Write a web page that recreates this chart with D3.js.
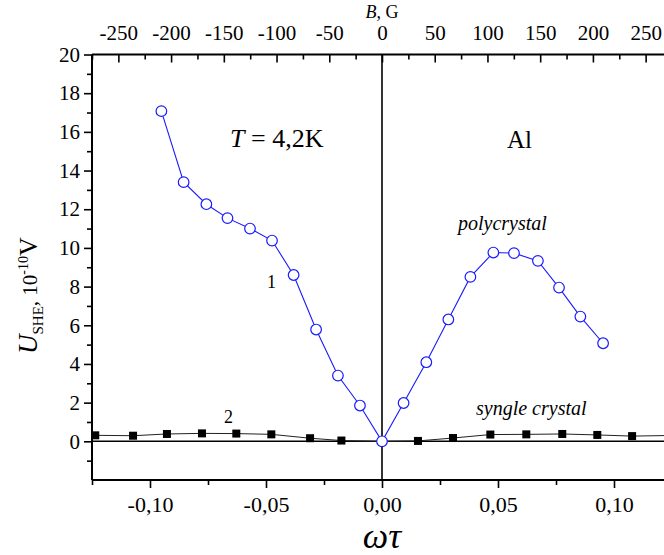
<!DOCTYPE html>
<html><head><meta charset="utf-8">
<script src="https://cdn.jsdelivr.net/npm/d3@7"></script>
<style>
body{margin:0;background:#fff;}
svg{display:block;}
text{font-family:"Liberation Serif","Times New Roman",serif;}
</style></head><body>
<svg id="c" width="664" height="555"></svg>
<script>
// ---- data ----
const polyX = [-0.0951,-0.0855,-0.0757,-0.0666,-0.0569,-0.0474,-0.0381,-0.0284,-0.0190,-0.0095,0,0.0093,0.0191,0.0286,0.0381,0.0480,0.0569,0.0672,0.0763,0.0855,0.0953];
const polyY = [17.07,13.40,12.26,11.54,11.00,10.38,8.60,5.78,3.40,1.85,0,1.98,4.09,6.30,8.50,9.76,9.73,9.33,7.95,6.45,5.07];
const singX = [-0.1236,-0.1073,-0.0927,-0.0776,-0.0628,-0.0477,-0.0310,-0.0175,0,0.0155,0.0306,0.0467,0.0622,0.0777,0.0928,0.1078,0.1233];
const singY = [0.31,0.29,0.38,0.41,0.40,0.36,0.16,0.04,0,0.02,0.17,0.35,0.36,0.38,0.33,0.27,0.30];
const xMajor = [-0.10,-0.05,0,0.05,0.10];
const xMinor = [-0.125,-0.075,-0.025,0.025,0.075,0.125];
const yMajor = [0,2,4,6,8,10,12,14,16,18,20];
const yMinor = [-1,1,3,5,7,9,11,13,15,17,19];
const bMajor = [-250,-200,-150,-100,-50,0,50,100,150,200,250];
const bMinor = [-275,-225,-175,-125,-75,-25,25,75,125,175,225,275];

const SERIF = "Liberation Serif, Times New Roman, serif";
const SANS = "Liberation Sans, Arial, sans-serif";
const svg = d3.select("#c");
const L = 92, R = 672, T = 54.5, Bm = 480;
const x = d3.scaleLinear().domain([-0.125,0.125]).range([L,R]);
const xb = d3.scaleLinear().domain([-275,275]).range([L,R]);
const y = d3.scaleLinear().domain([-2,20]).range([Bm,T]);

const fmtX = v => (Math.abs(v)<1e-9 ? "0,00" : (v<0?"-":"") + Math.abs(v).toFixed(2).replace(".",","));
const fmtB = v => (v<0?"-":"") + Math.abs(v);

function style(g, fs){
  g.attr("font-family",SERIF).attr("font-size",fs);
  g.select(".domain").remove();
  g.selectAll("line").attr("stroke","#000").attr("stroke-width",1.6);
  g.selectAll("text").attr("fill","#000").attr("font-family",SERIF).attr("font-size",fs);
}
// bottom axis
svg.append("g").attr("transform",`translate(0,${Bm})`)
  .call(d3.axisBottom(x).tickValues(xMajor).tickFormat(fmtX).tickSize(8).tickPadding(8)).call(g=>style(g,22));
svg.append("g").attr("transform",`translate(0,${Bm})`)
  .call(d3.axisBottom(x).tickValues(xMinor).tickFormat("").tickSize(5)).call(g=>style(g,22));
// left axis
svg.append("g").attr("transform",`translate(${L},0)`)
  .call(d3.axisLeft(y).tickValues(yMajor).tickFormat(d=>d).tickSize(8).tickPadding(4)).call(g=>style(g,21));
svg.append("g").attr("transform",`translate(${L},0)`)
  .call(d3.axisLeft(y).tickValues(yMinor).tickFormat("").tickSize(5)).call(g=>style(g,21));
// top axis (ticks inward)
svg.append("g").attr("transform",`translate(0,${T})`)
  .call(d3.axisTop(xb).tickValues(bMajor).tickFormat(fmtB).tickSizeInner(-8).tickSizeOuter(0).tickPadding(15)).call(g=>style(g,21));
svg.append("g").attr("transform",`translate(0,${T})`)
  .call(d3.axisTop(xb).tickValues(bMinor).tickFormat("").tickSizeInner(-5).tickSizeOuter(0)).call(g=>style(g,21));

// frame
const fr = svg.append("g").attr("stroke","#000").attr("stroke-width",2).attr("fill","none");
fr.append("line").attr("x1",L).attr("x2",L).attr("y1",T).attr("y2",Bm);
fr.append("line").attr("x1",L).attr("x2",R).attr("y1",T).attr("y2",T);
fr.append("line").attr("x1",L).attr("x2",R).attr("y1",Bm).attr("y2",Bm);
fr.append("line").attr("x1",R).attr("x2",R).attr("y1",T).attr("y2",Bm);
// zero lines
svg.append("line").attr("x1",L).attr("x2",R).attr("y1",y(0)).attr("y2",y(0)).attr("stroke","#000").attr("stroke-width",1.6);
svg.append("line").attr("x1",x(0)).attr("x2",x(0)).attr("y1",T).attr("y2",Bm).attr("stroke","#000").attr("stroke-width",1.6);

// series 2 (single crystal)
const s2 = singX.map((v,i)=>[v,singY[i]]);
svg.append("path").datum(s2).attr("fill","none").attr("stroke","#222").attr("stroke-width",1)
  .attr("d",d3.line().x(d=>x(d[0])).y(d=>y(d[1])));
svg.append("g").selectAll("rect").data(s2).join("rect")
  .attr("x",d=>x(d[0])-4).attr("y",d=>y(d[1])-4).attr("width",8).attr("height",8).attr("fill","#000");

// series 1 (polycrystal)
const s1 = polyX.map((v,i)=>[v,polyY[i]]);
svg.append("path").datum(s1).attr("fill","none").attr("stroke","#1a1aff").attr("stroke-width",1.1)
  .attr("d",d3.line().x(d=>x(d[0])).y(d=>y(d[1])));
svg.append("g").selectAll("circle").data(s1).join("circle")
  .attr("cx",d=>x(d[0])).attr("cy",d=>y(d[1])).attr("r",5.3)
  .attr("fill","#fff").attr("stroke","#1a1aff").attr("stroke-width",1.2);

// annotations
const t1 = svg.append("text").attr("x",230).attr("y",147).attr("font-family",SERIF).attr("font-size",26);
t1.append("tspan").attr("font-style","italic").text("T");
t1.append("tspan").text(" = 4,2K");
svg.append("text").attr("x",507).attr("y",148).attr("font-family",SERIF).attr("font-size",25).text("Al");
svg.append("text").attr("x",458).attr("y",230).attr("font-family",SERIF).attr("font-size",20).attr("font-style","italic").text("polycrystal");
svg.append("text").attr("x",476).attr("y",415).attr("font-family",SERIF).attr("font-size",20).attr("font-style","italic").text("syngle crystal");
svg.append("text").attr("x",267).attr("y",288).attr("font-family",SANS).attr("font-size",18).text("1");
svg.append("text").attr("x",224).attr("y",423).attr("font-family",SANS).attr("font-size",18).text("2");

// axis titles
svg.append("text").attr("x",x(0)).attr("y",548).attr("text-anchor","middle").attr("font-family",SERIF).attr("font-size",36).attr("font-style","italic").text("ωτ");
const bt = svg.append("text").attr("x",xb(0)).attr("y",18).attr("text-anchor","middle").attr("font-family",SERIF).attr("font-size",18);
bt.append("tspan").attr("font-style","italic").text("B");
bt.append("tspan").text(", G");

const yl = svg.append("text").attr("transform","translate(37,354) rotate(-90)").attr("font-family",SERIF);
yl.append("tspan").attr("font-size",27).attr("font-style","italic").text("U");
yl.append("tspan").attr("font-size",15).attr("dy",6).text("SHE");
yl.append("tspan").attr("font-size",21).attr("dy",-6).text(", 10");
yl.append("tspan").attr("font-size",14).attr("dy",-9).text("-10");
yl.append("tspan").attr("font-size",26).attr("dy",9).text("V");
</script></body></html>
